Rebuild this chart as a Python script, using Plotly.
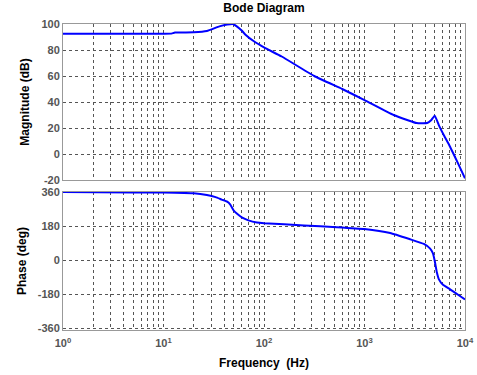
import plotly.graph_objects as go

# ---- data ----
mag_freq = [1, 5, 10, 12, 13, 20, 27, 36, 43, 49, 54, 60, 65, 80, 100, 150, 316, 600,
            1000, 1950, 2700, 3300, 4200, 4600, 5000, 5500, 6200, 7100, 8500, 10000]
mag_db = [92.5, 92.5, 92.5, 92.6, 93.4, 93.6, 94.6, 98.2, 99.6, 100, 98, 95, 92, 86.5, 82,
          75, 60, 50, 41.5, 30, 26, 23.8, 23.8, 26, 29.5, 22, 14, 5.6, -7, -18.7]

ph_freq = [1, 5, 10, 20, 27, 33, 38, 43, 46, 50, 54, 58, 63, 70, 85, 100, 250, 530,
           1000, 1800, 2800, 3900, 4500, 4800, 5000, 5250, 5500, 6000, 7100, 8900, 10000]
ph_deg = [360, 358, 357, 353, 344, 333, 320, 309, 295, 262, 245, 232, 220, 210, 199,
          195, 183, 174, 164, 143, 111, 85, 60, 35, -5, -66, -102, -129, -155, -190, -208]

mag_ticks = [-20, 0, 20, 40, 60, 80, 100]
mag_ticktext = ["-20", "0", "20", "40", "60", "80", "100"]
ph_ticks = [-360, -180, 0, 180, 360]
ph_ticktext = ["-360", "-180", "0", "180", "360"]
freq_tickvals = [1, 10, 100, 1000, 10000]
freq_ticktext = ["10<sup>0</sup>", "10<sup>1</sup>", "10<sup>2</sup>", "10<sup>3</sup>", "10<sup>4</sup>"]

# ---- figure ----
W, H = 477, 375
ml, mr, mt, mb = 63, 12, 24, 45
plot_h = H - mt - mb
top_dom = [(330 - 180) / plot_h, 1.0]
bot_dom = [0.0, (330 - 192) / plot_h]

fig = go.Figure()
fig.add_trace(go.Scatter(x=mag_freq, y=mag_db, mode="lines",
                         line=dict(color="#0000FF", width=2, shape="spline", smoothing=0.4),
                         xaxis="x", yaxis="y", showlegend=False))
fig.add_trace(go.Scatter(x=ph_freq, y=ph_deg, mode="lines",
                         line=dict(color="#0000FF", width=2, shape="spline", smoothing=0.4),
                         xaxis="x2", yaxis="y2", showlegend=False))

FONT = "Liberation Sans, Arial"
tickfont = dict(family=FONT, size=11, color="#555555", weight="bold")
grid = dict(showgrid=True, gridcolor="#555555", griddash="3px,3px", gridwidth=1)
border = dict(showline=True, linecolor="#999999", linewidth=1, mirror=True, automargin=False)
minor = dict(dtick="D1", showgrid=True, gridcolor="#555555", griddash="3px,3px", gridwidth=1, ticks="")

xcommon = dict(type="log", range=[0, 4], tickvals=freq_tickvals, ticks="",
               zeroline=False, minor=minor, **grid, **border)

fig.update_layout(
    width=W, height=H,
    margin=dict(l=ml, r=mr, t=mt, b=mb),
    paper_bgcolor="white", plot_bgcolor="white",
    xaxis=dict(domain=[0, 1], anchor="y", showticklabels=False, **xcommon),
    yaxis=dict(domain=top_dom, anchor="x", range=[-20, 100], tickvals=mag_ticks,
               ticktext=mag_ticktext,
               ticks="", zeroline=False, tickfont=tickfont, **grid, **border,
               title=dict(text="<b>Magnitude (dB)</b>", standoff=9,
                          font=dict(family=FONT, size=12, color="black"))),
    xaxis2=dict(domain=[0, 1], anchor="y2", ticktext=freq_ticktext, tickfont=tickfont,
                ticklabeloverflow="allow", ticklabelstandoff=3,
                title=dict(text="<b>Frequency\u00a0 (Hz)</b>", standoff=10,
                           font=dict(family=FONT, size=12, color="black")),
                **xcommon),
    yaxis2=dict(domain=bot_dom, anchor="x2", range=[-370, 360], tickvals=ph_ticks,
                ticktext=ph_ticktext,
                ticks="", zeroline=False, tickfont=tickfont, **grid, **border,
                title=dict(text="<b>Phase (deg)</b>", standoff=8,
                           font=dict(family=FONT, size=12, color="black"))),
    title=dict(text="<b>Bode Diagram</b>", x=264 / W, xanchor="center",
               y=1 - 8 / H, yanchor="middle",
               font=dict(family=FONT, size=12, color="black")),
)

fig.write_html("out.html", config={"displayModeBar": False},
               post_script="document.body.style.margin='0';")
